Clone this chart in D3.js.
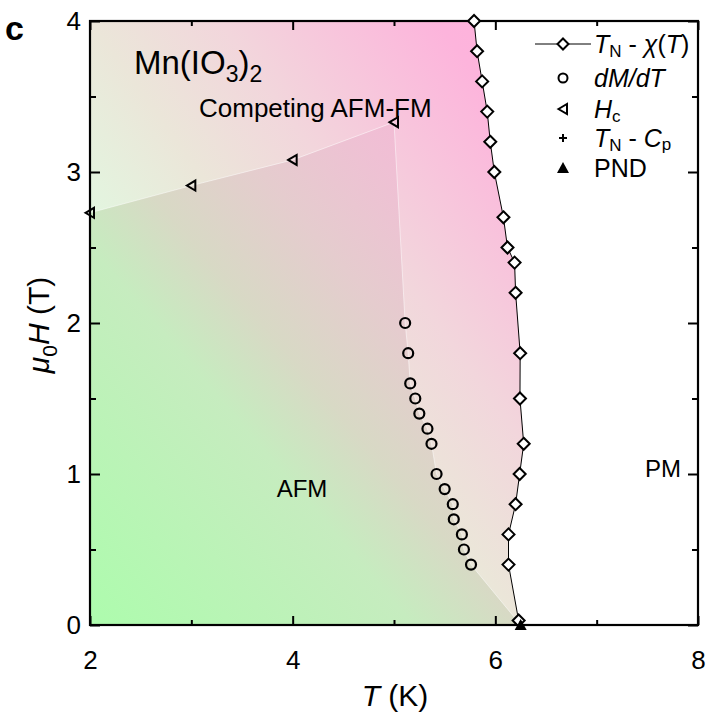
<!DOCTYPE html>
<html lang="en">
<head>
<meta charset="UTF-8">
<title>Mn(IO3)2 phase diagram</title>
<style>
  html, body { margin: 0; background: #fff; }
  svg text { font-family: "Liberation Sans", Arial, sans-serif; fill: #000; }
</style>
</head>
<body>
<div id="container"></div>
<script src="https://cdnjs.cloudflare.com/ajax/libs/d3/7.8.5/d3.min.js"></script>
<script>
// T_N from chi(T)
var tnT = [5.79, 5.82, 5.87, 5.92, 5.95, 5.99, 6.08, 6.12, 6.19, 6.20, 6.245, 6.243, 6.28, 6.24, 6.20, 6.13, 6.13, 6.23];
var tnH = [4.0, 3.8, 3.6, 3.4, 3.2, 3.0, 2.7, 2.5, 2.4, 2.2, 1.8, 1.5, 1.2, 1.0, 0.8, 0.6, 0.4, 0.03];
// dM/dT
var dmT = [5.11, 5.14, 5.16, 5.21, 5.25, 5.33, 5.37, 5.42, 5.50, 5.58, 5.59, 5.67, 5.69, 5.76];
var dmH = [2.0, 1.8, 1.6, 1.5, 1.4, 1.3, 1.2, 1.0, 0.9, 0.8, 0.7, 0.6, 0.5, 0.4];
// Hc
var hcT = [2, 3, 4, 5];
var hcH = [2.73, 2.91, 3.08, 3.33];
// T_N from Cp and PND
var cpT = [6.25], cpH = [0];
var pndT = [6.25], pndH = [0];

var xTicks = [2, 4, 6, 8];
var yTicks = [0, 1, 2, 3, 4];

var W = 706, H = 714;
var mLeft = 90, mRight = 698, mTop = 21, mBottom = 625;

var svg = d3.select('#container').append('svg')
  .attr('width', W).attr('height', H);

var x = d3.scaleLinear().domain([2, 8]).range([mLeft, mRight]);
var y = d3.scaleLinear().domain([0, 4]).range([mBottom, mTop]);

function pts(ts, hs) { return ts.map((t, i) => [t, hs[i]]); }
var tnPts = pts(tnT, tnH), dmPts = pts(dmT, dmH), hcPts = pts(hcT, hcH);

// gradients
var defs = svg.append('defs');
function grad(id, stops) {
  var g = defs.append('linearGradient').attr('id', id)
    .attr('x1', 0).attr('y1', 1).attr('x2', 1).attr('y2', 0);
  stops.forEach(s => g.append('stop').attr('offset', s[0]).attr('stop-color', s[1]));
}
grad('gLight', [[0, '#d8fbd3'], [0.35, '#e3f5df'], [0.5, '#ebe6d9'], [0.65, '#f2d6dc'], [0.9, '#fdb4dc'], [1, '#ffb0dc']]);
grad('gAfm', [[0, '#adfcad'], [0.375, '#c6ecbf'], [0.5, '#d8d9c5'], [0.65, '#e5ccce'], [0.8, '#efc0d4'], [1, '#f9b2d8']]);

var line = d3.line().x(d => x(d[0])).y(d => y(d[1]));

var tnRegion = [[2, 0], [2, 4]].concat(tnPts).concat([[6.25, 0]]);
svg.append('path').attr('d', line(tnRegion) + 'Z').attr('fill', 'url(#gLight)');

var afmRegion = [[2, 0]].concat(hcPts).concat(dmPts).concat([[6.25, 0]]);
svg.append('path').attr('d', line(afmRegion) + 'Z').attr('fill', 'url(#gAfm)')
  .attr('stroke', '#fff').attr('stroke-opacity', 0.5).attr('stroke-width', 1);

// TN line
svg.append('path').attr('d', line(tnPts.concat([[6.25, 0]]))).attr('fill', 'none')
  .attr('stroke', '#000').attr('stroke-width', 1);

// axes
function axisLayer(gen, tr, vals, size, fmt, pad) {
  var g = svg.append('g').attr('transform', tr)
    .call(gen.tickValues(vals).tickSizeInner(size).tickSizeOuter(0).tickPadding(pad || 10)
      .tickFormat(fmt));
  g.select('.domain').remove();
  g.selectAll('line').attr('stroke-width', 2);
  g.selectAll('text').attr('font-size', 26).style('font-family', '"Liberation Sans", Arial, sans-serif');
  return g;
}
var none = () => '';
var xMinor = [3, 5, 7], yMinor = [0.5, 1.5, 2.5, 3.5];
axisLayer(d3.axisBottom(x), 'translate(0,' + mBottom + ')', xTicks, -9, d3.format('d'), 19)
  .selectAll('text').attr('dy', '0.95em');
axisLayer(d3.axisBottom(x), 'translate(0,' + mBottom + ')', xMinor, -5, none);
axisLayer(d3.axisTop(x), 'translate(0,' + mTop + ')', xTicks, -9, none);
axisLayer(d3.axisTop(x), 'translate(0,' + mTop + ')', xMinor, -5, none);
axisLayer(d3.axisLeft(y), 'translate(' + mLeft + ',0)', yTicks, -10, d3.format('d'), 9);
axisLayer(d3.axisLeft(y), 'translate(' + mLeft + ',0)', yMinor, -6, none);
axisLayer(d3.axisRight(y), 'translate(' + mRight + ',0)', yTicks, -10, none);
axisLayer(d3.axisRight(y), 'translate(' + mRight + ',0)', yMinor, -6, none);

svg.append('rect').attr('x', mLeft).attr('y', mTop)
  .attr('width', mRight - mLeft).attr('height', mBottom - mTop)
  .attr('fill', 'none').attr('stroke', '#000').attr('stroke-width', 2.2);

// markers
function diamond(g, cx, cy, r) {
  g.append('path').attr('d', `M${cx},${cy - r}L${cx + r},${cy}L${cx},${cy + r}L${cx - r},${cy}Z`)
    .attr('fill', '#fff').attr('stroke', '#000').attr('stroke-width', 2);
}
function triLeft(g, cx, cy) {
  g.append('path').attr('d', `M${cx - 4.5},${cy}L${cx + 4},${cy - 5}L${cx + 4},${cy + 5}Z`)
    .attr('fill', 'none').attr('stroke', '#000').attr('stroke-width', 2);
}
function triUp(g, cx, cy) {
  g.append('path').attr('d', `M${cx},${cy - 6}L${cx + 6},${cy + 5}L${cx - 6},${cy + 5}Z`)
    .attr('fill', '#000');
}
function plus(g, cx, cy) {
  g.append('path').attr('d', `M${cx - 4},${cy}H${cx + 4}M${cx},${cy - 4}V${cy + 4}`)
    .attr('stroke', '#000').attr('stroke-width', 2);
}

var marks = svg.append('g');
hcPts.forEach(d => triLeft(marks, x(d[0]), y(d[1])));
marks.selectAll('circle.dm').data(dmPts).enter().append('circle')
  .attr('cx', d => x(d[0])).attr('cy', d => y(d[1])).attr('r', 5)
  .attr('fill', 'none').attr('stroke', '#000').attr('stroke-width', 2.2);
tnPts.forEach(d => diamond(marks, x(d[0]), y(d[1]), 6));
pts(cpT, cpH).forEach(d => plus(marks, x(d[0]), y(d[1])));
pts(pndT, pndH).forEach(d => triUp(marks, x(d[0]), y(d[1])));

// labels
svg.append('text').attr('x', 5).attr('y', 40).attr('font-size', 34).attr('font-weight', 'bold').text('c');
var mn = svg.append('text').attr('x', 134).attr('y', 74).attr('font-size', 33);
mn.append('tspan').text('Mn(IO');
mn.append('tspan').attr('font-size', 23).attr('dy', 8).text('3');
mn.append('tspan').attr('dy', -8).text(')');
mn.append('tspan').attr('font-size', 23).attr('dy', 8).text('2');
svg.append('text').attr('x', 199).attr('y', 117).attr('font-size', 26).text('Competing AFM-FM');
svg.append('text').attr('x', 302).attr('y', 497).attr('font-size', 24).attr('text-anchor', 'middle').text('AFM');
svg.append('text').attr('x', 663).attr('y', 477).attr('font-size', 24).attr('text-anchor', 'middle').text('PM');

// axis titles
var xt = svg.append('text').attr('x', 395).attr('y', 706).attr('font-size', 30).attr('text-anchor', 'middle');
xt.append('tspan').attr('font-style', 'italic').text('T');
xt.append('tspan').text(' (K)');
var yt = svg.append('text').attr('transform', 'translate(49,325) rotate(-90)').attr('font-size', 30).attr('text-anchor', 'middle');
yt.append('tspan').attr('font-style', 'italic').text('μ');
yt.append('tspan').attr('font-size', 21).attr('dy', 8).text('0');
yt.append('tspan').attr('dy', -8).attr('font-style', 'italic').text('H');
yt.append('tspan').text(' (T)');

// legend
var lx = 563, tx = 594, rows = [44, 78, 109, 138, 168];
svg.append('line').attr('x1', 535).attr('x2', 591).attr('y1', rows[0]).attr('y2', rows[0])
  .attr('stroke', '#000').attr('stroke-width', 1);
diamond(svg, lx, rows[0], 5.5);
svg.append('circle').attr('cx', lx).attr('cy', rows[1]).attr('r', 4.5)
  .attr('fill', 'none').attr('stroke', '#000').attr('stroke-width', 2);
triLeft(svg, lx, rows[2]);
plus(svg, lx, rows[3]);
triUp(svg, lx, rows[4]);

var fs = 25;
function legText(row) {
  return svg.append('text').attr('x', tx).attr('y', rows[row] + 9).attr('font-size', fs);
}
var t0 = legText(0);
t0.append('tspan').attr('font-style', 'italic').text('T');
t0.append('tspan').attr('font-size', 17).attr('dy', 4).text('N');
t0.append('tspan').attr('dy', -4).text(' - ');
t0.append('tspan').attr('font-style', 'italic').text('χ');
t0.append('tspan').text('(');
t0.append('tspan').attr('font-style', 'italic').text('T');
t0.append('tspan').text(')');
legText(1).append('tspan').attr('font-style', 'italic').text('dM/dT');
var t2 = legText(2);
t2.append('tspan').attr('font-style', 'italic').text('H');
t2.append('tspan').attr('font-size', 17).attr('dy', 4).text('c');
var t3 = legText(3);
t3.append('tspan').attr('font-style', 'italic').text('T');
t3.append('tspan').attr('font-size', 17).attr('dy', 4).text('N');
t3.append('tspan').attr('dy', -4).text(' - ');
t3.append('tspan').attr('font-style', 'italic').text('C');
t3.append('tspan').attr('font-size', 17).attr('dy', 3).text('p');
legText(4).text('PND');
</script>
</body>
</html>
